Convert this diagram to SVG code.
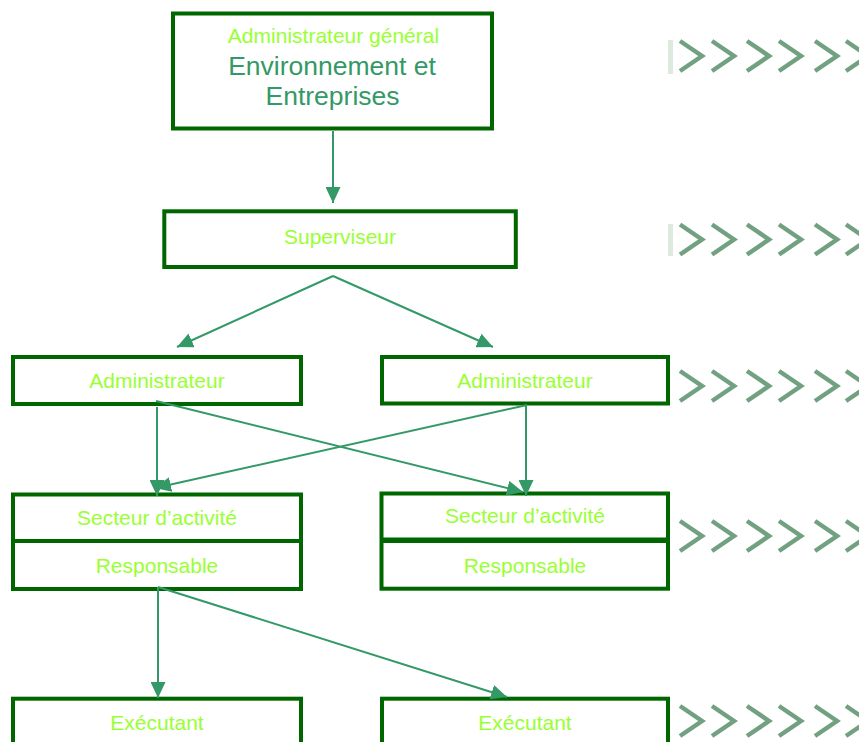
<svg xmlns="http://www.w3.org/2000/svg" width="859" height="742" viewBox="0 0 859 742">
<style>
.box{fill:#ffffff;stroke:#006600;stroke-width:4}
.lt{font-family:"Liberation Sans",Arial,sans-serif;font-size:21px;fill:#99ff33;text-anchor:middle}
.dk{font-family:"Liberation Sans",Arial,sans-serif;font-size:26.5px;fill:#339966;text-anchor:middle}
.con{stroke:#339966;stroke-width:2;fill:none;marker-end:url(#ah)}
.chev{fill:none;stroke:#4f8a62;stroke-width:4.5;stroke-linejoin:miter;opacity:0.8}
.bar{fill:#dfeadf}
</style>
<defs>
<marker id="ah" markerUnits="userSpaceOnUse" markerWidth="16" markerHeight="15" refX="16" refY="7.5" orient="auto">
<path d="M0,0 L16,7.5 L0,15 z" fill="#339966"/>
</marker>
<g id="chevrow">
<polyline class="chev" points="680,-15 702,0 680,15"/>
<polyline class="chev" points="712,-15 734,0 712,15"/>
<polyline class="chev" points="747,-15 769,0 747,15"/>
<polyline class="chev" points="779,-15 801,0 779,15"/>
<polyline class="chev" points="815,-15 837,0 815,15"/>
<polyline class="chev" points="846,-15 868,0 846,15"/>
</g>
</defs>
<rect width="859" height="742" fill="#ffffff"/>
<g id="node-admin-general">
<rect class="box" x="173" y="13.5" width="319" height="115"/>
<text class="lt" x="333.5" y="42.5">Administrateur général</text>
<text class="dk" x="332" y="75">Environnement et</text>
<text class="dk" x="332.5" y="105">Entreprises</text>
</g>
<g id="node-superviseur">
<rect class="box" x="164.3" y="211.3" width="351.5" height="55.7"/>
<text class="lt" x="340" y="244">Superviseur</text>
</g>
<g id="node-admin-left">
<rect class="box" x="13" y="357" width="288" height="47"/>
<text class="lt" x="157" y="388">Administrateur</text>
</g>
<g id="node-admin-right">
<rect class="box" x="382" y="357" width="286" height="46.5"/>
<text class="lt" x="525" y="388">Administrateur</text>
</g>
<g id="node-secteur-left">
<rect class="box" x="13" y="494.5" width="288" height="94.5"/>
<line x1="13" y1="541" x2="301" y2="541" stroke="#006600" stroke-width="4"/>
<text class="lt" x="157" y="525">Secteur d’activité</text>
<text class="lt" x="157" y="573">Responsable</text>
</g>
<g id="node-secteur-right">
<rect class="box" x="381.5" y="493.5" width="286.5" height="95.2"/>
<line x1="381.5" y1="540.3" x2="668" y2="540.3" stroke="#006600" stroke-width="5.5"/>
<text class="lt" x="525" y="523">Secteur d’activité</text>
<text class="lt" x="525" y="573">Responsable</text>
</g>
<g id="node-executant-left">
<rect class="box" x="13" y="698.7" width="288" height="60"/>
<text class="lt" x="157" y="730">Exécutant</text>
</g>
<g id="node-executant-right">
<rect class="box" x="382" y="698.7" width="286" height="60"/>
<text class="lt" x="525" y="730">Exécutant</text>
</g>
<g id="connectors">
<line class="con" x1="333" y1="131" x2="333" y2="203"/>
<line class="con" x1="333" y1="276" x2="177" y2="347"/>
<line class="con" x1="333" y1="276" x2="493" y2="347"/>
<line class="con" x1="157" y1="407" x2="157" y2="496"/>
<line class="con" x1="156" y1="401" x2="523" y2="492"/>
<line class="con" x1="526" y1="406" x2="526" y2="496"/>
<line class="con" x1="527" y1="405" x2="155" y2="488"/>
<line class="con" x1="158" y1="587" x2="158" y2="698"/>
<line class="con" x1="158" y1="587" x2="507" y2="697"/>
</g>
<g id="chevrons">
<rect class="bar" x="668" y="40" width="5" height="34"/>
<rect class="bar" x="668" y="224" width="5" height="32"/>
<use href="#chevrow" y="56"/>
<use href="#chevrow" y="239.5"/>
<use href="#chevrow" y="386"/>
<use href="#chevrow" y="536"/>
<use href="#chevrow" y="721"/>
</g>
</svg>
